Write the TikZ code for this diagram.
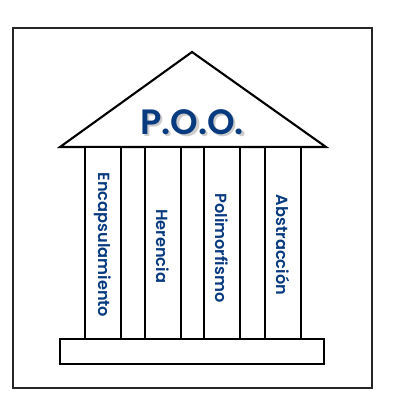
\documentclass[tikz,border=0pt]{standalone}
\usepackage{fontspec}
\setmainfont{Poppins}[BoldFont={Poppins SemiBold}]
\usepackage{tikz}
\usetikzlibrary{calc,
                positioning}
\definecolor{pooblue}{RGB}{8,58,128}
\tikzset{
        frame/.style={draw=black!85, line width=1.1pt},
        part/.style={draw, line width=1.5pt, fill=white},
        pillar/.style={text=pooblue, font=\bfseries\fontsize{11.5}{12}\selectfont,
                       rotate=-90, inner sep=0pt},
        title/.style={font=\bfseries\fontsize{25}{27}\selectfont, inner sep=0pt},
}

\begin{document}
\begin{tikzpicture}[x=0.25mm, y=-0.25mm]
        \useasboundingbox (0,0) rectangle (400,400);
        \draw[frame] (13,28) rectangle (372,388);

        % frontón
        \draw[part, line join=miter] (60,147) -- (192,52) -- (326,147) -- cycle;
        \node[title, text=black!20] (poo shadow) at (194.5,124.5) {P.O.O.};
        \node[title, text=pooblue] (poo) at (192,122) {P.O.O.};

        % columnas
        \foreach \x/\name/\txt/\y in {85/enc/Encapsulamiento/245,
                                      145/her/Herencia/246,
                                      204/pol/Polimorfismo/248,
                                      265/abs/Abstracción/245}{
                \draw[part] (\x,147) rectangle ++(36,192);
                \node[pillar] (\name) at (\x+18,\y) {\txt};
        }

        % base
        \draw[part] (60,339) rectangle (324,364);
\end{tikzpicture}
\end{document}
